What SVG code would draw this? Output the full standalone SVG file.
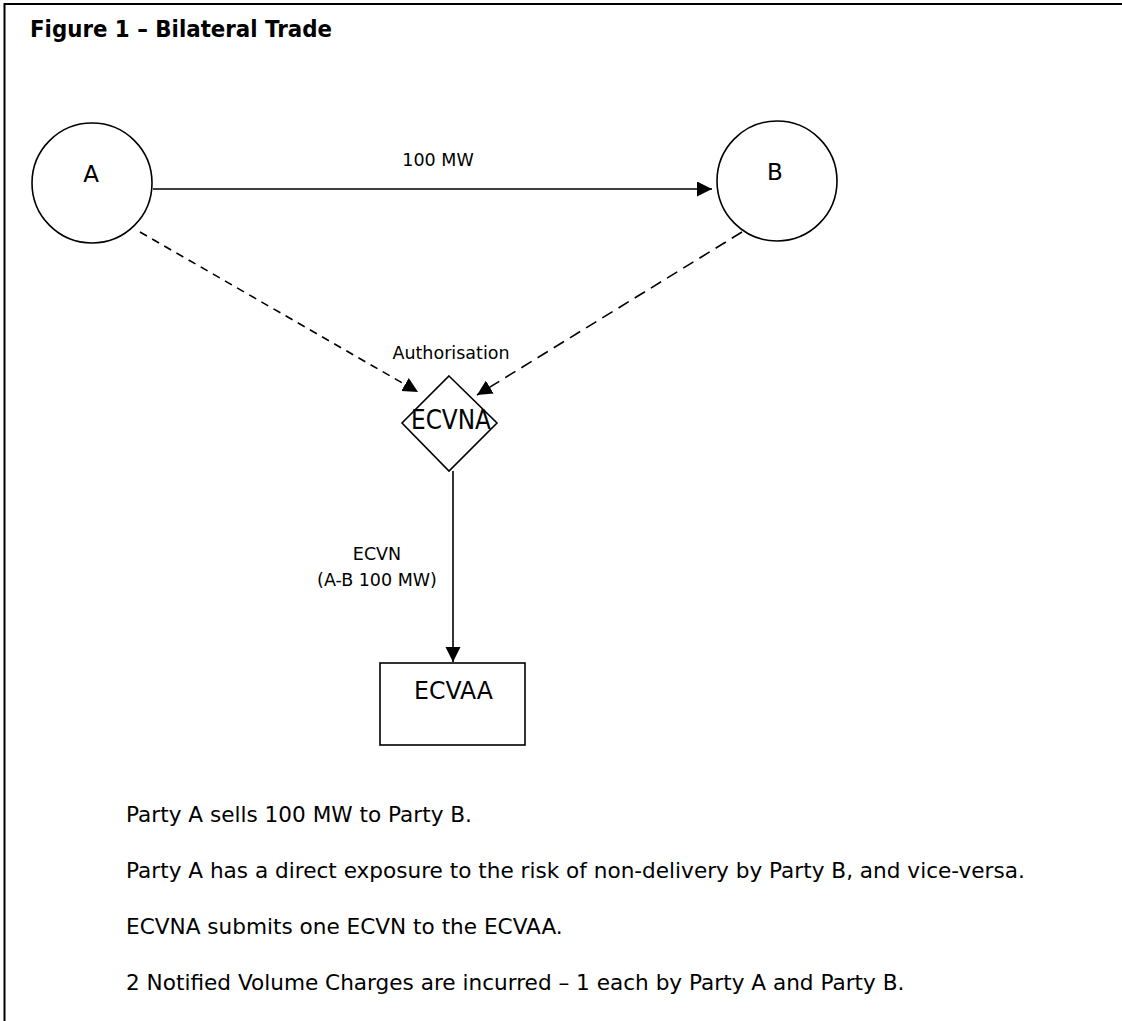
<svg xmlns="http://www.w3.org/2000/svg" width="1122" height="1021" viewBox="0 0 1122 1021">
<style>
text{font-family:"DejaVu Sans","Liberation Sans",sans-serif;fill:#000}
.big{font-size:23px}
.lbl{font-size:17.5px}
.body{font-size:21.6px}
.title{font-size:23px;font-weight:bold}
.shape{fill:#fff;stroke:#000;stroke-width:1.6}
.conn{fill:none;stroke:#000;stroke-width:1.6}
</style>
<defs>
<marker id="ah" markerUnits="userSpaceOnUse" markerWidth="16" markerHeight="16" refX="15" refY="7.5" orient="auto">
<path d="M0,0 L15,7.5 L0,15 Z" fill="#000"/>
</marker>
</defs>
<rect x="0" y="0" width="1122" height="1021" fill="#fff"/>
<path d="M4.5,1021 L4.5,4 L1122,4" fill="none" stroke="#000" stroke-width="2"/>
<text class="title" x="30" y="37" textLength="302" lengthAdjust="spacingAndGlyphs">Figure 1 – Bilateral Trade</text>
<g id="connectors">
<line class="conn" x1="153" y1="189" x2="712" y2="189" marker-end="url(#ah)"/>
<line class="conn" x1="140" y1="232" x2="418" y2="392" stroke-dasharray="8,6" marker-end="url(#ah)"/>
<line class="conn" x1="742" y1="232" x2="477" y2="395" stroke-dasharray="12,7" marker-end="url(#ah)"/>
<line class="conn" x1="453" y1="471" x2="453" y2="662" marker-end="url(#ah)"/>
<text class="lbl" x="438" y="166" text-anchor="middle">100 MW</text>
<text class="lbl" x="451" y="359" text-anchor="middle">Authorisation</text>
<text class="lbl" x="377" y="560" text-anchor="middle">ECVN</text>
<text class="lbl" x="377" y="586" text-anchor="middle">(A-B 100 MW)</text>
</g>
<g id="nodeA">
<circle class="shape" cx="92" cy="183" r="60"/>
<text class="big" x="91" y="182" text-anchor="middle">A</text>
</g>
<g id="nodeB">
<circle class="shape" cx="777" cy="181" r="60"/>
<text class="big" x="775" y="180" text-anchor="middle">B</text>
</g>
<g id="nodeECVNA">
<polygon class="shape" points="449,376 497,423 449,471 402,423" style="fill:none"/>
<text x="411" y="429" font-size="26" textLength="80" lengthAdjust="spacingAndGlyphs">ECVNA</text>
</g>
<g id="nodeECVAA">
<rect class="shape" x="380" y="663" width="145" height="82"/>
<text x="414" y="699" font-size="24" textLength="79" lengthAdjust="spacingAndGlyphs">ECVAA</text>
</g>
<g id="notes">
<text class="body" x="126" y="822">Party A sells 100 MW to Party B.</text>
<text class="body" x="126" y="878">Party A has a direct exposure to the risk of non-delivery by Party B, and vice-versa.</text>
<text class="body" x="126" y="934">ECVNA submits one ECVN to the ECVAA.</text>
<text class="body" x="126" y="990">2 Notified Volume Charges are incurred – 1 each by Party A and Party B.</text>
</g>
</svg>
